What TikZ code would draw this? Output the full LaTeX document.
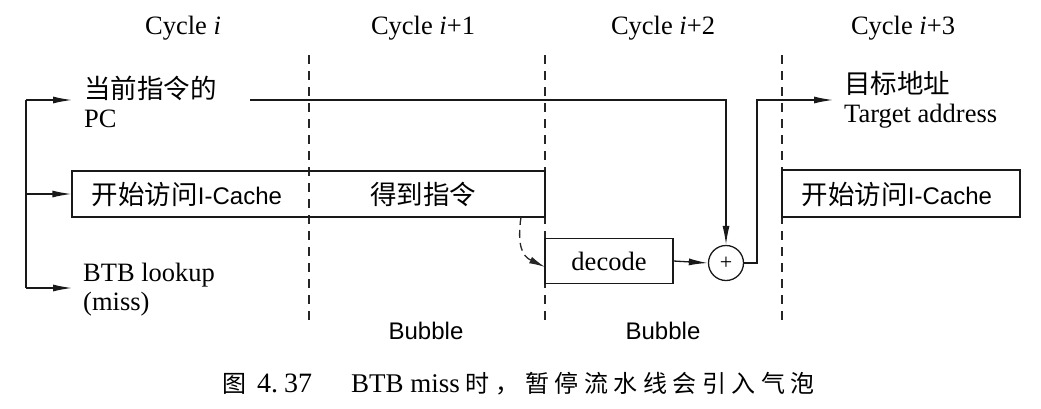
\documentclass[tikz,border=0pt]{standalone}
\usepackage{fontspec}
\setmainfont{Liberation Serif}
\setsansfont{Liberation Sans}
\newfontfamily\cjk{Noto Sans CJK SC}
\newfontfamily\cjkcap[LetterSpace=23]{Noto Sans CJK SC}
\usetikzlibrary{arrows.meta}
\begin{document}
\begin{tikzpicture}[x=1pt,y=-1pt,
  lbl/.style={font=\fontsize{26.5}{29}\selectfont, inner sep=0pt},
  ln/.style={line width=1.3pt, draw=black!90},
  arr/.style={ln, -{Latex[length=19pt,width=7pt]}},
  dline/.style={line width=1.3pt, draw=black!85, dash pattern=on 9pt off 7pt},
  box/.style={ln, rectangle, inner sep=0pt}]
\useasboundingbox (0,0) rectangle (1041,408);

% cycle headings
\node[lbl, anchor=base] (c0) at (183,34) {Cycle \textit{i}};
\node[lbl, anchor=base] (c1) at (423,34) {Cycle \textit{i}+1};
\node[lbl, anchor=base] (c2) at (663,34) {Cycle \textit{i}+2};
\node[lbl, anchor=base] (c3) at (903,34) {Cycle \textit{i}+3};

% cycle boundaries
\draw[dline] (309,55) -- (309,326);
\draw[dline] (545,55) -- (545,326);
\draw[dline] (782,55) -- (782,326);

% left labels
\node[lbl, anchor=west, align=left] (pclbl) at (84,102) {{\cjk 当前指令的}\\PC};
\node[lbl, anchor=west, align=left] (btblbl) at (83,290) {BTB lookup\\(miss)};

% boxes
\node[box, draw, minimum width=473pt, minimum height=46pt] (box1) at (308.5,194) {};
\node[lbl] (t1) at (187,194) {{\cjk 开始访问}\textsf{\fontsize{24}{28}\selectfont I-Cache}};
\node[lbl] (t2) at (423,194) {\cjk 得到指令};

\node[box, draw, minimum width=238pt, minimum height=47pt] (box3) at (901,193.5) {};
\node[lbl] (t3) at (897,194) {{\cjk 开始访问}\textsf{\fontsize{24}{28}\selectfont I-Cache}};

\node[box, draw, minimum width=128pt, minimum height=45pt] (decode) at (609,261) {};
\node[lbl] (t4) at (609,261) {decode};

\node[ln, draw, circle, minimum size=35pt, inner sep=0pt, font=\fontsize{22}{22}\selectfont] (plus) at (726,263) {+};

% target label
\node[lbl, anchor=west, align=left] (tgtlbl) at (844,100) {{\cjk 目标地址}\\Target address};

% trunk and arrows
\coordinate (tx) at (26,0);
\draw[ln] (26,100) -- (26,288);
\draw[arr, shorten >=12pt] (26,100) -- (84,100);
\draw[arr] (box1.west -| tx) -- (box1.west);
\draw[arr, shorten >=11pt] (26,288) -- (83,288);

% PC path into adder
\coordinate (pcstart) at (250,100);
\draw[arr] (pcstart) -- (pcstart -| plus.north) -- (plus.north);
\draw[arr] (decode.east) -- (plus.west);
\draw[arr, shorten >=11pt] (plus.east) -- (757,263) -- (757,100) -- (tgtlbl.west |- 0,100);

% dashed curve from box1 to decode
\coordinate (dstart) at (521,217);
\coordinate (dend) at (545,267);
\draw[dline, dash pattern=on 8pt off 5pt, -{Latex[length=16pt,width=7pt]}] (dstart) .. controls (517,245) and (522,256) .. (dend);

% bubbles
\node[lbl, font=\sffamily\fontsize{24}{28}\selectfont] (b1) at (426,331) {Bubble};
\node[lbl, font=\sffamily\fontsize{24}{28}\selectfont] (b2) at (663,331) {Bubble};

% caption
\node[lbl, anchor=west, font=\fontsize{28}{30}\selectfont] (cap) at (222,384) {{\cjk\fontsize{24}{26}\selectfont 图}\hspace{11pt}4.\hspace{6pt}37\hspace{39pt}{\fontsize{27}{30}\selectfont BTB miss}\hspace{6pt}{\cjkcap\fontsize{24}{26}\selectfont 时，暂停流水线会引入气泡}};
\end{tikzpicture}
\end{document}
